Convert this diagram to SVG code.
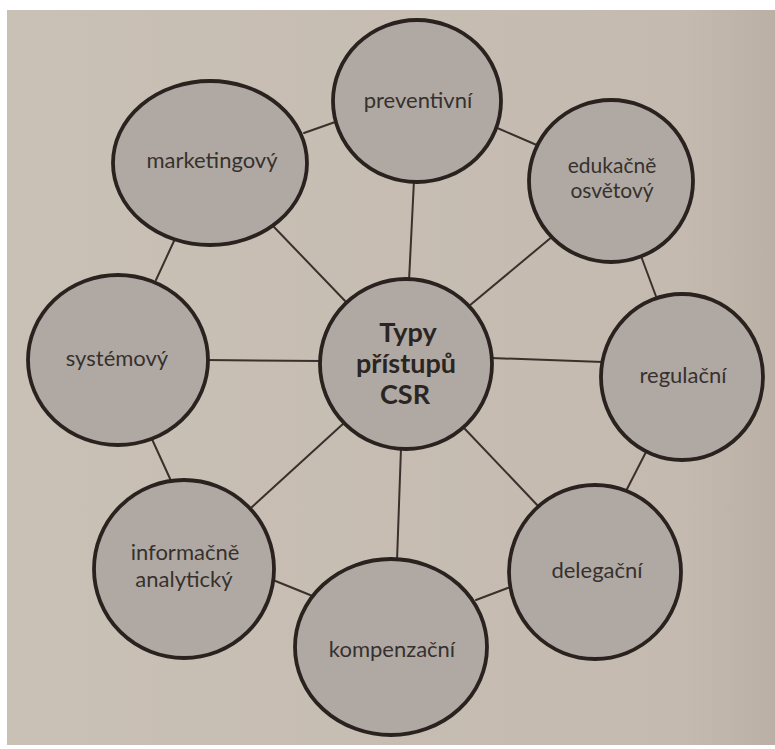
<svg xmlns="http://www.w3.org/2000/svg" width="775" height="749" viewBox="0 0 775 749">
  <defs>
    <linearGradient id="paper" x1="0" y1="0" x2="1" y2="0">
      <stop offset="0" stop-color="#c9c0b6"/>
      <stop offset="0.88" stop-color="#c4bab0"/>
      <stop offset="1" stop-color="#bbb0a5"/>
    </linearGradient>
    <style>
      .node { fill: #b0a9a3; stroke: #2a221f; stroke-width: 3.8; }
      .conn line { stroke: #3a312c; stroke-width: 2; stroke-linecap: round; }
      .lbl { font-family: Lato, "Open Sans", "Liberation Sans", sans-serif; font-size: 22px; fill: #36312e; text-anchor: middle; }
      .lbl2 { font-size: 21px; }
      .hub { font-family: Lato, "Open Sans", "Liberation Sans", sans-serif; font-size: 27px; font-weight: bold; fill: #2a2522; text-anchor: middle; }
    </style>
  </defs>

  <rect x="0" y="0" width="775" height="749" fill="#ffffff"/>
  <rect x="7" y="10" width="768" height="735" fill="url(#paper)"/>

  <g id="connectors" class="conn">
    <line x1="414" y1="180" x2="409" y2="281"/>
    <line x1="274" y1="227" x2="348" y2="304"/>
    <line x1="553" y1="236" x2="469" y2="306"/>
    <line x1="206" y1="360" x2="322" y2="361"/>
    <line x1="491" y1="358" x2="603" y2="362"/>
    <line x1="464" y1="428" x2="540" y2="508"/>
    <line x1="401" y1="448" x2="397" y2="561"/>
    <line x1="252" y1="507" x2="344" y2="423"/>
    <line x1="304" y1="133" x2="338" y2="121"/>
    <line x1="495" y1="127" x2="539" y2="146"/>
    <line x1="641" y1="256" x2="657" y2="299"/>
    <line x1="646" y1="452" x2="626" y2="491"/>
    <line x1="513" y1="586" x2="476" y2="600"/>
    <line x1="315" y1="597" x2="273" y2="580"/>
    <line x1="172" y1="483" x2="151" y2="437"/>
    <line x1="156" y1="280" x2="174" y2="241"/>
  </g>

  <g id="node-center">
    <ellipse class="node" cx="406" cy="364" rx="86" ry="85"/>
    <text class="hub"><tspan x="408" y="342">Typy</tspan><tspan x="406" y="372.5">přístupů</tspan><tspan x="405" y="404">CSR</tspan></text>
  </g>

  <g id="node-preventivni">
    <ellipse class="node" cx="417" cy="101" rx="84" ry="81"/>
    <text class="lbl" x="418" y="108">preventivní</text>
  </g>

  <g id="node-marketingovy">
    <ellipse class="node" cx="210" cy="163" rx="97" ry="82"/>
    <text class="lbl" x="212" y="168">marketingový</text>
  </g>

  <g id="node-edukacne">
    <ellipse class="node" cx="611" cy="181" rx="82" ry="81"/>
    <text class="lbl lbl2"><tspan x="612" y="172.5">edukačně</tspan><tspan x="612" y="198">osvětový</tspan></text>
  </g>

  <g id="node-systemovy">
    <ellipse class="node" cx="118" cy="360" rx="90" ry="85"/>
    <text class="lbl" x="117" y="366">systémový</text>
  </g>

  <g id="node-regulacni">
    <ellipse class="node" cx="682" cy="377" rx="81" ry="83"/>
    <text class="lbl" x="683" y="383">regulační</text>
  </g>

  <g id="node-informacne">
    <ellipse class="node" cx="184" cy="569" rx="90" ry="89"/>
    <text class="lbl"><tspan x="185" y="560">informačně</tspan><tspan x="184" y="587">analytický</tspan></text>
  </g>

  <g id="node-kompenzacni">
    <ellipse class="node" cx="391" cy="647" rx="96" ry="88"/>
    <text class="lbl" x="392" y="657">kompenzační</text>
  </g>

  <g id="node-delegacni">
    <ellipse class="node" cx="595" cy="572" rx="86" ry="87"/>
    <text class="lbl" x="597" y="578">delegační</text>
  </g>
</svg>
